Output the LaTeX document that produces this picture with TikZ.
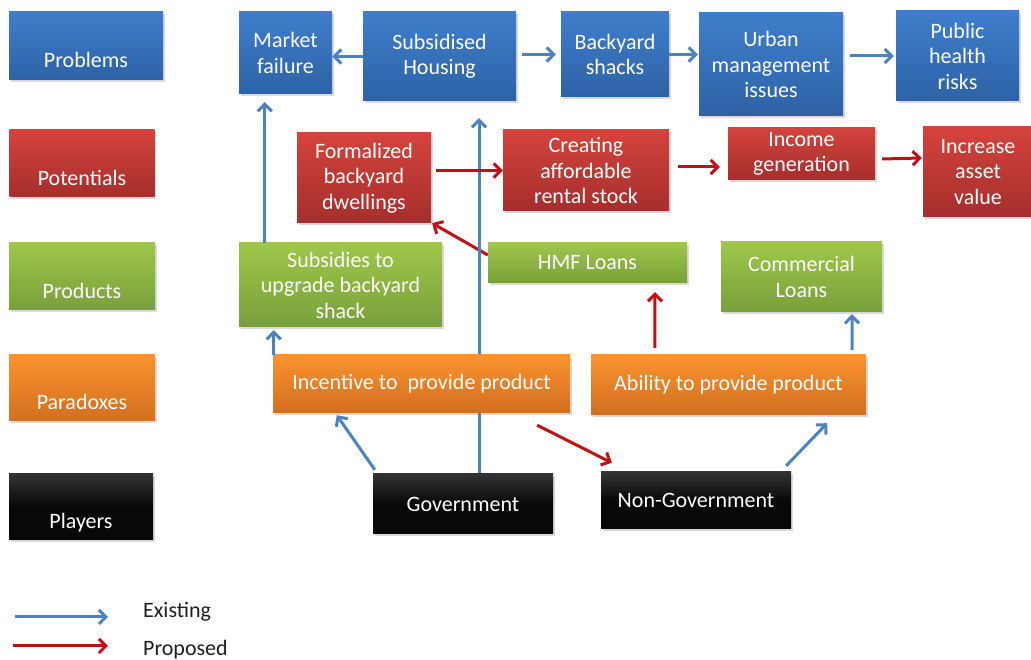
\documentclass[tikz,border=0pt]{standalone}
\usepackage{fontspec}
\setmainfont{Carlito}
\usetikzlibrary{arrows.meta,shadows,backgrounds}

\definecolor{bluetop}{HTML}{3F7ECC}
\definecolor{bluebot}{HTML}{2D62A5}
\definecolor{redtop}{HTML}{D4433C}
\definecolor{redbot}{HTML}{A52E2C}
\definecolor{greentop}{HTML}{9EC74B}
\definecolor{greenbot}{HTML}{78A03A}
\definecolor{orangetop}{HTML}{F9932F}
\definecolor{orangebot}{HTML}{D26F1F}
\definecolor{arrowblue}{HTML}{4D82C2}
\definecolor{arrowred}{HTML}{C40E16}

\begin{document}
\begin{tikzpicture}[x=1pt,y=1pt,
    box/.style={rectangle,text=white,align=center,inner sep=2pt,
        font=\fontsize{22}{25.5}\selectfont,
        drop shadow={shadow xshift=1.5pt,shadow yshift=-2.5pt,opacity=.3}},
    legend/.style={box,text height=44pt,text depth=0pt},
    problem/.style={top color=bluetop,bottom color=bluebot},
    potential/.style={top color=redtop,bottom color=redbot},
    product/.style={top color=greentop,bottom color=greenbot},
    paradox/.style={top color=orangetop,bottom color=orangebot},
    player/.style={top color=black!80,bottom color=black!97,middle color=black!97},
    existing/.style={draw=arrowblue,line width=3pt,-{Straight Barb[length=7pt,width=14pt]}},
    proposed/.style={existing,draw=arrowred},
    key/.style={text=black!88,font=\fontsize{22}{25.5}\selectfont,inner sep=0pt}]
    \useasboundingbox (0,0) rectangle (1031,660);

    % left column
    \node[legend,problem,minimum width=154,minimum height=68] (problems) at (86,614) {Problems};
    \node[legend,potential,minimum width=145,minimum height=67] (potentials) at (82,496.5) {Potentials};
    \node[legend,product,minimum width=146,minimum height=67] (products) at (82,383.5) {Products};
    \node[legend,paradox,minimum width=146,minimum height=66] (paradoxes) at (82,272) {Paradoxes};
    \node[legend,player,minimum width=144,minimum height=66] (players) at (81,153) {Players};

    % problems row
    \node[box,problem,minimum width=93,minimum height=82] (market) at (285.5,607) {Market\\failure};
    \node[box,problem,minimum width=153,minimum height=89] (subsid) at (439.5,603.5) {Subsidised\\Housing};
    \node[box,problem,minimum width=108,minimum height=85] (shacks) at (615,605.5) {Backyard\\shacks};
    \node[box,problem,minimum width=144,minimum height=103] (urban) at (771,595.5) {Urban\\management\\issues};
    \node[box,problem,minimum width=123,minimum height=90] (health) at (957.5,604) {Public\\health\\risks};

    % potentials row
    \node[box,potential,minimum width=134,minimum height=90] (formal) at (364,482) {Formalized\\backyard\\dwellings};
    \node[box,potential,minimum width=166,minimum height=81] (creating) at (586,489.5) {Creating\\affordable\\rental stock};
    \node[box,potential,minimum width=147,minimum height=52] (income) at (801.5,506) {Income\\generation};
    \node[box,potential,minimum width=110,minimum height=90] (increase) at (978,488) {Increase\\asset\\value};

    % products row
    \node[box,product,minimum width=203,minimum height=84] (subsidies) at (340.5,375) {Subsidies to\\upgrade backyard\\shack};
    \node[box,product,minimum width=199,minimum height=40] (hmf) at (587.5,397) {HMF Loans};
    \node[box,product,minimum width=161,minimum height=70] (commercial) at (801.5,383) {Commercial\\Loans};

    % paradoxes row
    \node[box,paradox,minimum width=297,minimum height=58] (incentive) at (421.5,276) {Incentive to\ \ provide product};
    \node[box,paradox,minimum width=275,minimum height=60] (ability) at (728.5,275) {Ability to provide product};

    % players row
    \node[box,player,minimum width=180,minimum height=60] (gov) at (463,156) {Government};
    \node[box,player,minimum width=190,minimum height=57] (nongov) at (696,159.5) {Non-Government};

    % government line runs behind the paradox box
    \begin{scope}[on background layer]
        \draw[proposed] ([yshift=8pt]hmf.west) -- ([xshift=1pt]formal.south east);
        \draw[existing] ([xshift=16pt]gov.north) -- ([xshift=39.5pt,yshift=-17pt]subsid.south);
    \end{scope}

    \draw[existing] (subsid.west) -- (market.east |- subsid.west);
    \draw[existing,shorten <=6pt,shorten >=5pt] (subsid.east |- shacks.west) -- (shacks.west);
    \draw[existing,shorten >=1pt] (shacks.east) -- (urban.west |- shacks.east);
    \draw[existing,shorten <=7pt,shorten >=2pt] (urban.east |- health.west) -- (health.west);
    \draw[existing,shorten >=8pt] ([xshift=26pt]subsidies.north west) -- ([xshift=26pt]market.south west);
    \draw[existing,shorten >=3pt] ([xshift=1pt]incentive.north west) -- ([xshift=35pt]subsidies.south west);
    \draw[existing] ([xshift=2pt,yshift=4pt]gov.north west) -- ([xshift=64pt,yshift=-2pt]incentive.south west);
    \draw[proposed] ([xshift=-33pt,yshift=-12pt]incentive.south east) -- ([xshift=11pt,yshift=9pt]nongov.north west);
    \draw[existing] ([xshift=-5pt,yshift=6pt]nongov.north east) -- ([xshift=-39pt,yshift=-8pt]ability.south east);
    \draw[proposed] ([xshift=64pt,yshift=7pt]ability.north west) -- ([xshift=67.5pt,yshift=-9pt]hmf.south);
    \draw[existing] ([xshift=-14pt,yshift=5pt]ability.north east) -- ([xshift=50.5pt,yshift=-2pt]commercial.south);
    \draw[proposed,shorten <=5pt] (formal.east |- creating.west) -- (creating.west);
    \draw[proposed] ([xshift=9pt,yshift=3.5pt]creating.east) -- ([xshift=-8pt,yshift=-13pt]income.west);
    \draw[proposed] ([xshift=7pt,yshift=-5pt]income.east) -- ([xshift=-1pt,yshift=14pt]increase.west);

    % key
    \node[key,anchor=west] (existing label) at (143,48) {Existing};
    \node[key,anchor=west] (proposed label) at (143,10.5) {Proposed};
    \coordinate (existing tail) at (15,43);
    \coordinate (proposed tail) at (13,14);
    \draw[existing] (existing tail) -- ([xshift=-35pt,yshift=-5pt]existing label.west);
    \draw[proposed] (proposed tail) -- ([xshift=-35pt,yshift=3.5pt]proposed label.west);
\end{tikzpicture}
\end{document}
